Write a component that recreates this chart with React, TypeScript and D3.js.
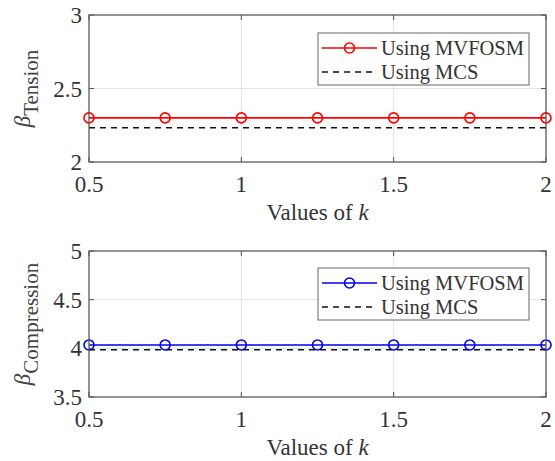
import React from 'react';
import * as d3 from 'd3';

const kValues = [0.5, 0.75, 1, 1.25, 1.5, 1.75, 2];
const tensionMvfosm = [2.3, 2.3, 2.3, 2.3, 2.3, 2.3, 2.3];
const tensionMcs = [2.233, 2.233, 2.233, 2.233, 2.233, 2.233, 2.233];
const compMvfosm = [4.035, 4.035, 4.035, 4.035, 4.035, 4.035, 4.035];
const compMcs = [3.985, 3.985, 3.985, 3.985, 3.985, 3.985, 3.985];
const xTicks = [0.5, 1, 1.5, 2];
const tensionTicks = [2, 2.5, 3];
const compTicks = [3.5, 4, 4.5, 5];
const legendLabels = ['Using MVFOSM', 'Using MCS'];

const FONT = "'Liberation Serif', 'Times New Roman', Times, serif";
const txt = { fontFamily: FONT };

type PanelProps = {
  top: number;
  bottom: number;
  yDomain: [number, number];
  yTicks: number[];
  main: number[];
  ref2: number[];
  color: string;
  sub: string;
  legendTop: number;
};

function Panel({ top, bottom, yDomain, yTicks, main, ref2, color, sub, legendTop }: PanelProps) {
  const left = 89;
  const right = 546;
  const x = d3.scaleLinear().domain([0.5, 2]).range([left, right]);
  const y = d3.scaleLinear().domain(yDomain).range([bottom, top]);
  const line = d3.line<number>().x((_, i) => x(kValues[i])).y(d => y(d));
  const axisColor = '#555';
  const tick = 5;
  const labelCenter = (top + bottom) / 2;

  return (
    <g>
      <rect x={left} y={top} width={right - left} height={bottom - top} fill="white" />
      {/* grid */}
      {xTicks.map(t => (
        <line key={'gx' + t} x1={x(t)} x2={x(t)} y1={top} y2={bottom} stroke="#e3e3e3" strokeWidth={1} />
      ))}
      {yTicks.map(t => (
        <line key={'gy' + t} x1={left} x2={right} y1={y(t)} y2={y(t)} stroke="#e3e3e3" strokeWidth={1} />
      ))}
      {/* data */}
      <path d={line(ref2) || ''} fill="none" stroke="#111" strokeWidth={1.6} strokeDasharray="6,5" />
      <path d={line(main) || ''} fill="none" stroke={color} strokeWidth={1.6} />
      {main.map((v, i) => (
        <circle key={i} cx={x(kValues[i])} cy={y(v)} r={5} fill="none" stroke={color} strokeWidth={1.6} />
      ))}
      {/* box */}
      <rect x={left} y={top} width={right - left} height={bottom - top} fill="none" stroke={axisColor} strokeWidth={1.2} />
      {xTicks.map(t => (
        <g key={'tx' + t}>
          <line x1={x(t)} x2={x(t)} y1={bottom} y2={bottom - tick} stroke={axisColor} />
          <line x1={x(t)} x2={x(t)} y1={top} y2={top + tick} stroke={axisColor} />
          <text x={x(t)} y={bottom + 30} textAnchor="middle" style={txt} fontSize={23} fill="#333">
            {t}
          </text>
        </g>
      ))}
      {yTicks.map(t => (
        <g key={'ty' + t}>
          <line x1={left} x2={left + tick} y1={y(t)} y2={y(t)} stroke={axisColor} />
          <line x1={right} x2={right - tick} y1={y(t)} y2={y(t)} stroke={axisColor} />
          <text x={left - 7} y={y(t) + 8} textAnchor="end" style={txt} fontSize={23} fill="#333">
            {t}
          </text>
        </g>
      ))}
      {/* x label */}
      <text x={(left + right) / 2} y={bottom + 58} textAnchor="middle" style={txt} fontSize={23} fill="#333">
        Values of <tspan fontStyle="italic">k</tspan>
      </text>
      {/* y label */}
      <text
        transform={`translate(30,${labelCenter}) rotate(-90)`}
        textAnchor="middle"
        style={txt}
        fontSize={23}
        fill="#444"
      >
        <tspan fontStyle="italic">β</tspan>
        <tspan fontSize={21} dy={8}>{sub}</tspan>
      </text>
      {/* legend */}
      <g>
        <rect x={318} y={legendTop} width={211} height={52} fill="white" stroke="#666" strokeWidth={1} />
        <line x1={322} x2={377} y1={legendTop + 15} y2={legendTop + 15} stroke={color} strokeWidth={1.6} />
        <circle cx={349.5} cy={legendTop + 15} r={5} fill="none" stroke={color} strokeWidth={1.6} />
        <text x={381} y={legendTop + 22} style={txt} fontSize={20.5} fill="#333">{legendLabels[0]}</text>
        <line x1={322} x2={377} y1={legendTop + 39} y2={legendTop + 39} stroke="#111" strokeWidth={1.6} strokeDasharray="6,5" />
        <text x={381} y={legendTop + 46} style={txt} fontSize={20.5} fill="#333">{legendLabels[1]}</text>
      </g>
    </g>
  );
}

export default function App() {
  return (
    <div style={{ position: 'absolute', left: 0, top: 0 }}>
      <svg width={555} height={461} style={{ display: 'block', background: 'white' }}>
        <Panel
          top={15}
          bottom={162}
          yDomain={[2, 3]}
          yTicks={tensionTicks}
          main={tensionMvfosm}
          ref2={tensionMcs}
          color="#ff0000"
          sub="Tension"
          legendTop={33}
        />
        <Panel
          top={251}
          bottom={397}
          yDomain={[3.5, 5]}
          yTicks={compTicks}
          main={compMvfosm}
          ref2={compMcs}
          color="#0000ee"
          sub="Compression"
          legendTop={268}
        />
      </svg>
    </div>
  );
}
